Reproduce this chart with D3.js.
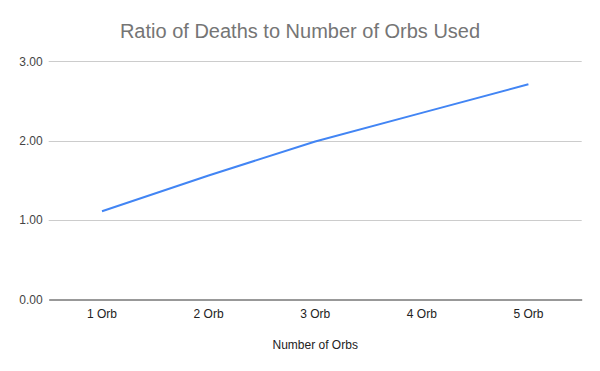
<!DOCTYPE html>
<html><head><meta charset="utf-8">
<script src="https://cdn.jsdelivr.net/npm/d3@7"></script>
<style>body{margin:0;background:#fff}svg{display:block}text{font-family:"Liberation Sans",Arial,sans-serif}</style>
</head><body>
<script>
const categories = ["1 Orb","2 Orb","3 Orb","4 Orb","5 Orb"];
const ratios = [1.11, 1.56, 1.99, 2.35, 2.71];
const yTicks = [0, 1, 2, 3];
const titleText = "Ratio of Deaths to Number of Orbs Used";
const xTitle = "Number of Orbs";

const W = 600, H = 371;
const m = {left: 48.7, right: 18.3, top: 61.3, bottom: 71.7};
const svg = d3.select("body").append("svg").attr("width", W).attr("height", H);
svg.append("rect").attr("width", W).attr("height", H).attr("fill", "#fff");

const x = d3.scaleBand().domain(categories).range([m.left, W - m.right]);
const y = d3.scaleLinear().domain([0, 3]).range([H - m.bottom, m.top]);

// gridlines
svg.append("g").selectAll("line").data(yTicks.filter(d => d > 0)).join("line")
  .attr("x1", m.left).attr("x2", W - m.right)
  .attr("y1", d => Math.round(y(d)) + 0.5).attr("y2", d => Math.round(y(d)) + 0.5)
  .attr("stroke", "#cccccc").attr("stroke-width", 1);

// y labels
const yAxis = svg.append("g").attr("transform", `translate(${m.left},0)`)
  .call(d3.axisLeft(y).tickValues(yTicks).tickFormat(d3.format(".2f")).tickSize(0).tickPadding(6));
yAxis.select(".domain").remove();
yAxis.selectAll("text").attr("fill", "#444").style("font-size", "12px").style("font-family", '"Liberation Sans",Arial,sans-serif');

// x axis
const xAxis = svg.append("g").attr("transform", `translate(0,${Math.round(y(0)) + 0.5})`)
  .call(d3.axisBottom(x).tickSize(0).tickPadding(10));
xAxis.select(".domain").attr("stroke", "#333").attr("stroke-width", 1);
xAxis.selectAll("text").attr("fill", "#222").style("font-size", "12px").style("font-family", '"Liberation Sans",Arial,sans-serif');

// line
const line = d3.line().x((d, i) => x(categories[i]) + x.bandwidth() / 2).y(d => y(d));
svg.append("path").datum(ratios).attr("d", line)
  .attr("fill", "none").attr("stroke", "#4285f4").attr("stroke-width", 2)
  .attr("stroke-linejoin", "round");

// title
svg.append("text").attr("x", 300).attr("y", 38).attr("text-anchor", "middle")
  .attr("fill", "#757575").style("font-size", "20px").text(titleText);

// x title
svg.append("text").attr("x", (m.left + W - m.right) / 2).attr("y", 349).attr("text-anchor", "middle")
  .attr("fill", "#222").style("font-size", "12px").text(xTitle);
</script>
</body></html>
